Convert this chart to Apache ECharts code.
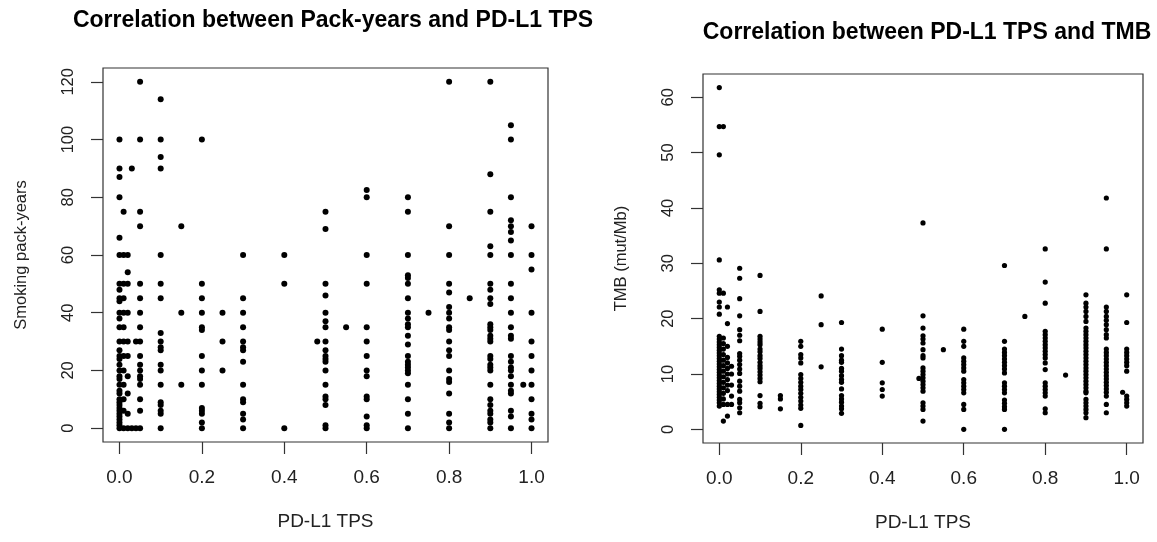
<!DOCTYPE html>
<html><head><meta charset="utf-8">
<script src="https://cdn.jsdelivr.net/npm/echarts@6/dist/echarts.min.js"></script>
<style>html,body{margin:0;padding:0;background:#fff}#c{width:1157px;height:542px}</style>
</head><body><div id="c"></div>
<script>
// ---- Left panel: PD-L1 TPS vs smoking pack-years ----
const leftTpsLevels = [0.0, 0.01, 0.02, 0.03, 0.04, 0.05, 0.1, 0.15, 0.2, 0.25, 0.3, 0.4, 0.48, 0.5, 0.55, 0.6, 0.7, 0.75, 0.8, 0.85, 0.9, 0.95, 0.98, 1.0];
const leftPackYears = [
  [100, 90, 87, 80, 66, 60, 50, 48, 45, 44, 40, 38, 35, 30, 27, 25, 24, 22, 20, 18, 17, 15, 13, 12, 10, 9, 8, 7, 6, 5, 4, 3, 2, 1, 0],
  [75, 60, 50, 45, 40, 35, 30, 25, 20, 15, 10, 6, 0],
  [60, 54, 50, 40, 30, 25, 18, 12, 5, 0],
  [90, 0],
  [30, 0],
  [120, 100, 75, 70, 50, 45, 40, 35, 30, 25, 22, 20, 18, 17, 15, 10, 6, 0],
  [114, 100, 94, 90, 60, 50, 45, 33, 30, 28, 27, 22, 20, 15, 9, 8, 6, 5, 0],
  [70, 40, 15],
  [100, 50, 45, 40, 35, 34, 25, 20, 15, 7, 6, 5, 2, 0],
  [40, 30, 20],
  [60, 45, 40, 35, 30, 28, 27, 23, 15, 10, 9, 5, 3, 0],
  [60, 50, 0],
  [30],
  [75, 69, 50, 46, 40, 37, 35, 30, 27, 25, 24, 23, 20, 15, 11, 10, 8, 1, 0],
  [35],
  [82.5, 80, 60, 50, 35, 30, 25, 20, 18, 11, 10, 4, 1, 0],
  [80, 75, 60, 53, 52, 50, 45, 40, 38, 36, 35, 32, 29, 25, 23, 22, 21, 20, 19, 15, 10, 5, 0],
  [40],
  [120, 70, 60, 50, 47, 42, 40, 38, 35, 34, 30, 27, 25, 20, 17, 16, 12, 5, 2, 0],
  [45],
  [120, 88, 75, 63, 60, 50, 48, 45, 43, 36, 35, 34, 32, 31, 30, 25, 24, 22, 21, 20, 15, 10, 8, 6, 5, 3, 2, 0],
  [105, 100, 80, 72, 70, 68, 65, 60, 50, 45, 40, 35, 32, 31, 25, 23, 21, 20, 18, 15, 13, 12, 6, 4, 0],
  [15],
  [70, 60, 55, 40, 30, 25, 20, 15, 10, 5, 3, 0]
];
const leftXTicks = [0, 0.2, 0.4, 0.6, 0.8, 1.0];
const leftYTicks = [0, 20, 40, 60, 80, 100, 120];

// ---- Right panel: PD-L1 TPS vs TMB ----
const rightTpsLevels = [0.0, 0.01, 0.02, 0.03, 0.05, 0.1, 0.15, 0.2, 0.25, 0.3, 0.4, 0.49, 0.5, 0.55, 0.6, 0.7, 0.75, 0.8, 0.85, 0.9, 0.95, 0.99, 1.0];
const rightTMB = [
  [61.75, 54.7, 49.6, 30.6, 25.2, 24.6, 23.0, 22.1, 20.8, 16.8, 16.3, 15.8, 15.3, 14.8, 14.3, 13.8, 13.3, 12.8, 12.3, 11.8, 11.3, 10.8, 10.3, 9.8, 9.3, 8.8, 8.3, 7.8, 7.3, 6.8, 6.3, 5.8, 5.3, 4.8, 4.2],
  [54.7, 24.6, 16.5, 15.5, 14.5, 13.5, 12.5, 11.5, 10.5, 9.5, 8.5, 7.5, 6.5, 5.5, 4.5, 1.5],
  [22.1, 19.1, 15.0, 13.0, 12.0, 11.0, 10.0, 9.0, 8.0, 7.0, 4.5, 2.4],
  [11.4, 10.0, 8.0, 6.0, 4.5],
  [29.1, 27.3, 23.6, 20.5, 18.0, 17.0, 16.0, 13.7, 13.2, 12.5, 11.7, 10.9, 10.1, 8.7, 7.8, 6.9, 5.4, 4.8, 3.9, 3.0],
  [27.8, 21.3, 16.8, 16.3, 15.8, 15.3, 14.5, 14.0, 13.3, 12.8, 12.1, 11.5, 11.0, 10.4, 9.8, 9.2, 8.6, 6.1, 4.7, 4.1],
  [6.1, 5.5, 3.7],
  [15.9, 15.0, 13.5, 12.9, 12.0, 9.9, 9.2, 8.5, 7.8, 7.2, 6.5, 5.8, 5.1, 4.4, 3.8, 0.7],
  [24.1, 18.9, 11.3],
  [19.3, 14.5, 13.3, 12.5, 12.1, 11.0, 10.5, 9.7, 9.0, 8.5, 7.3, 6.1, 5.5, 4.9, 4.2, 3.7, 2.9],
  [18.1, 12.1, 8.4, 7.2, 6.0],
  [9.2],
  [37.3, 20.5, 18.3, 16.9, 16.3, 15.6, 14.4, 13.3, 12.9, 11.1, 10.5, 9.9, 9.3, 8.7, 8.1, 7.5, 6.9, 4.8, 4.2, 3.6, 1.5],
  [14.4],
  [18.1, 15.9, 15.0, 12.9, 12.3, 11.7, 11.1, 10.5, 9.0, 8.4, 7.8, 7.2, 6.6, 4.5, 3.6, 0.0],
  [29.6, 15.9, 14.5, 13.9, 13.3, 12.7, 12.1, 11.5, 10.9, 10.2, 8.4, 7.8, 7.2, 6.6, 5.3, 4.7, 4.1, 3.6, 0.0],
  [20.4],
  [32.6, 26.6, 22.8, 17.7, 17.1, 16.5, 15.9, 15.3, 14.7, 14.1, 13.5, 12.9, 12.0, 10.8, 8.4, 7.8, 7.2, 6.6, 6.0, 3.7, 3.0],
  [9.8],
  [24.3, 22.8, 22.1, 21.3, 20.4, 19.5, 18.3, 17.7, 17.1, 16.5, 15.9, 15.3, 14.7, 14.1, 13.5, 12.9, 12.3, 11.7, 11.1, 10.5, 9.9, 9.3, 8.7, 8.1, 7.5, 6.9, 6.6, 5.4, 4.8, 4.2, 3.6, 3.0, 2.1],
  [41.8, 32.6, 22.1, 21.3, 20.4, 19.7, 18.9, 18.0, 17.1, 16.5, 14.5, 13.9, 13.3, 12.7, 12.1, 11.5, 10.9, 10.3, 9.7, 9.1, 8.5, 7.9, 7.3, 6.7, 6.0, 4.5, 3.0],
  [6.7],
  [24.3, 19.3, 14.5, 13.9, 13.3, 12.7, 12.1, 11.5, 10.5, 6.0, 5.4, 4.8, 4.2]
];
const rightXTicks = [0, 0.2, 0.4, 0.6, 0.8, 1.0];
const rightYTicks = [0, 10, 20, 30, 40, 50, 60];

function toPairs(levels, cols) {
  const out = [];
  levels.forEach((x, i) => cols[i].forEach(y => out.push([x, y])));
  return out;
}

const FONT = 'Liberation Sans, Arial, Helvetica, sans-serif';

function xAxisCfg(gridIndex, ticks) {
  return {
    type: 'value', gridIndex, min: -0.04, max: 1.04,
    name: 'PD-L1 TPS', nameLocation: 'middle', nameGap: 70,
    nameTextStyle: { color: '#222', fontSize: 19, fontFamily: FONT },
    axisLine: { show: false, onZero: false }, splitLine: { show: false },
    axisTick: { show: true, length: 12, customValues: ticks, lineStyle: { color: '#333', width: 1.2 } },
    axisLabel: { customValues: ticks, margin: 26, formatter: v => v.toFixed(1), color: '#222', fontSize: 19, fontFamily: FONT }
  };
}
function yAxisCfg(gridIndex, min, max, ticks, name, gap) {
  return {
    type: 'value', gridIndex, min, max,
    name, nameLocation: 'middle', nameGap: gap,
    nameTextStyle: { color: '#222', fontSize: 16.5, fontFamily: FONT },
    axisLine: { show: false, onZero: false }, splitLine: { show: false },
    axisTick: { show: true, length: 12, customValues: ticks, lineStyle: { color: '#333', width: 1.2 } },
    axisLabel: { customValues: ticks, margin: 26, rotate: 90, formatter: v => String(Math.round(v)), color: '#222', fontSize: 16.5, fontFamily: FONT }
  };
}

const chart = echarts.init(document.getElementById('c'), null, { renderer: 'canvas' });
chart.setOption({
  backgroundColor: '#fff',
  animation: false,
  title: [
    { text: 'Correlation between Pack-years and PD-L1 TPS', left: 328, top: 4, textAlign: 'center',
      textStyle: { fontSize: 23, fontWeight: 'bold', fontFamily: FONT, color: '#000' } },
    { text: 'Correlation between PD-L1 TPS and TMB', left: 922, top: 16, textAlign: 'center',
      textStyle: { fontSize: 23, fontWeight: 'bold', fontFamily: FONT, color: '#000' } }
  ],
  grid: [
    { left: 103, top: 68, width: 445, height: 374, show: true, borderColor: '#333', borderWidth: 1.2, backgroundColor: 'transparent' },
    { left: 703, top: 74, width: 440, height: 369, show: true, borderColor: '#333', borderWidth: 1.2, backgroundColor: 'transparent' }
  ],
  xAxis: [xAxisCfg(0, leftXTicks), xAxisCfg(1, rightXTicks)],
  yAxis: [
    yAxisCfg(0, -4.8, 124.8, leftYTicks, 'Smoking pack-years', 73),
    yAxisCfg(1, -2.47, 64.2, rightYTicks, 'TMB (mut/Mb)', 73)
  ],
  series: [
    { type: 'scatter', xAxisIndex: 0, yAxisIndex: 0, data: toPairs(leftTpsLevels, leftPackYears),
      symbolSize: 6, itemStyle: { color: '#000', opacity: 1 }, silent: true },
    { type: 'scatter', xAxisIndex: 1, yAxisIndex: 1, data: toPairs(rightTpsLevels, rightTMB),
      symbolSize: 5.2, itemStyle: { color: '#000', opacity: 1 }, silent: true }
  ]
});
</script></body></html>
